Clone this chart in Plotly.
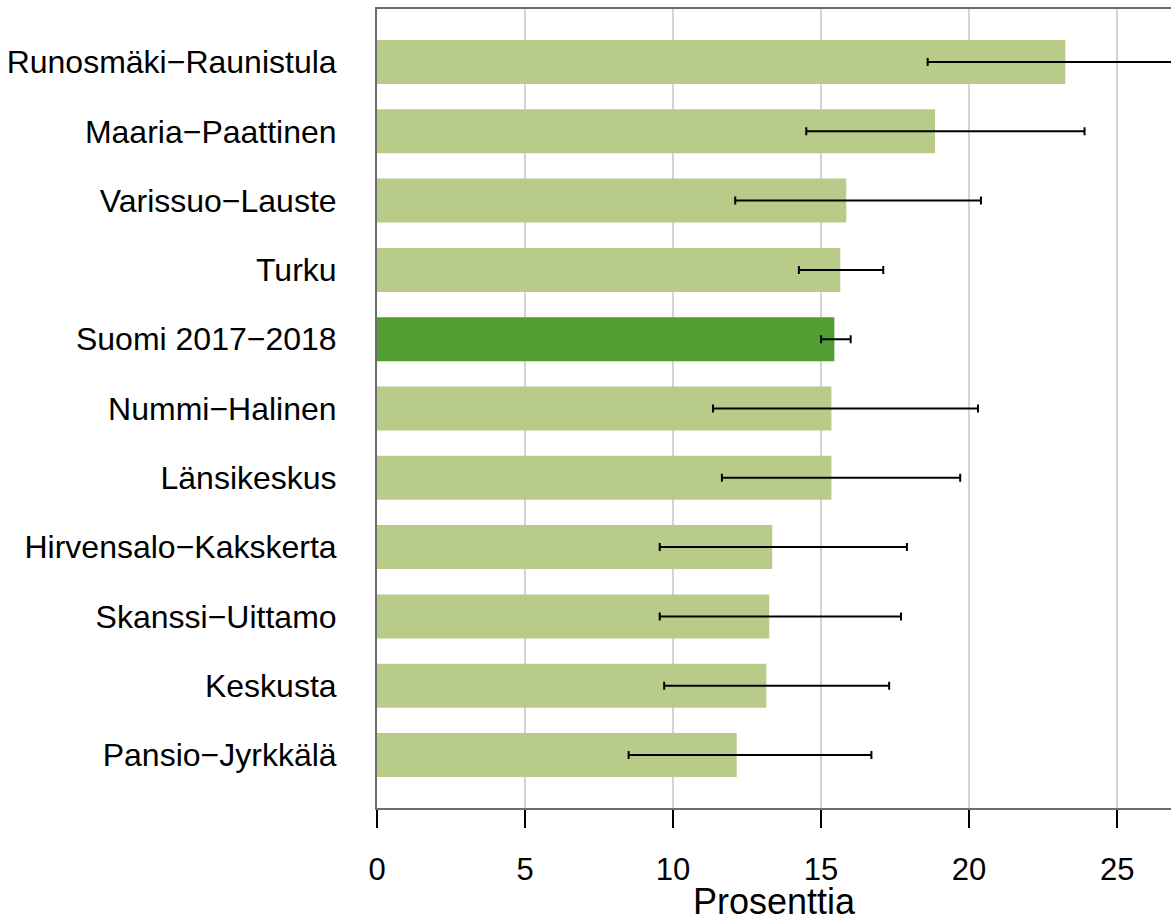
import plotly.graph_objects as go

categories = ["Pansio−Jyrkkälä", "Keskusta", "Skanssi−Uittamo", "Hirvensalo−Kakskerta",
              "Länsikeskus", "Nummi−Halinen", "Suomi 2017−2018", "Turku",
              "Varissuo−Lauste", "Maaria−Paattinen", "Runosmäki−Raunistula"]
values = [12.15, 13.15, 13.25, 13.35, 15.35, 15.35, 15.45, 15.65, 15.85, 18.85, 23.25]
lower = [8.5, 9.7, 9.55, 9.55, 11.65, 11.35, 15.0, 14.25, 12.1, 14.5, 18.6]
upper = [16.7, 17.3, 17.7, 17.9, 19.7, 20.3, 16.0, 17.1, 20.4, 23.9, 28.5]
highlight = "Suomi 2017−2018"
x_title = "Prosenttia"

light = "#b8cb88"
dark = "#529e32"
colors = [dark if c == highlight else light for c in categories]

fig = go.Figure()
fig.add_trace(go.Bar(
    y=categories, x=values, orientation="h",
    marker=dict(color=colors, line=dict(width=0)),
    width=0.635,
    error_x=dict(type="data", symmetric=False,
                 array=[u - v for u, v in zip(upper, values)],
                 arrayminus=[v - l for v, l in zip(values, lower)],
                 color="black", thickness=2, width=4),
    showlegend=False,
))

fig.update_layout(
    width=1171, height=920,
    margin=dict(l=377, r=0, t=9, b=112),
    plot_bgcolor="white", paper_bgcolor="white",
    font=dict(family="Liberation Sans, Arial, sans-serif", color="black", size=31),
    bargap=0.365,
    annotations=[dict(text=x_title, xref="paper", yref="paper", x=0.5, y=0,
                      xanchor="center", yanchor="middle", yshift=-93,
                      showarrow=False, font=dict(size=36))],
)
fig.update_xaxes(
    range=[0, 26.82], tickvals=[0, 5, 10, 15, 20, 25],
    showgrid=True, gridcolor="#d4d4d4", gridwidth=2,
    zeroline=False,
    showline=True, linecolor="#6b6b6b", linewidth=2, mirror=True,
    ticks="outside", ticklen=18, tickwidth=2, tickcolor="black",
    tickfont=dict(size=31), ticklabelstandoff=15,
)
fig.update_yaxes(
    categoryorder="array", categoryarray=categories,
    range=[-0.765, 10.765],
    showgrid=False, zeroline=False,
    showline=True, linecolor="#6b6b6b", linewidth=2,
    ticks="", ticklabelstandoff=32,
    tickfont=dict(size=32),
)

fig.write_html("out.html", config={"displayModeBar": False},
               post_script="document.body.style.margin='0px';document.body.style.overflow='hidden';")
